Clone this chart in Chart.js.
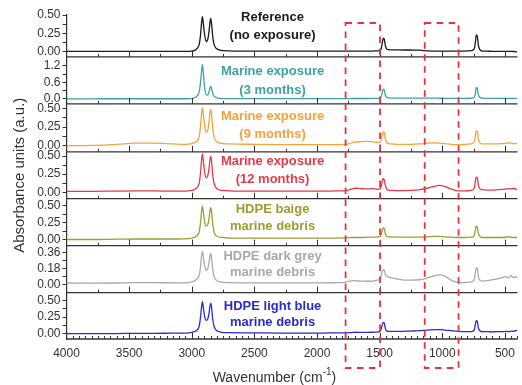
<!DOCTYPE html>
<html>
<head>
<meta charset="utf-8">
<script src="https://cdn.jsdelivr.net/npm/chart.js@4.4.0/dist/chart.umd.min.js"></script>
<style>
  html, body { margin: 0; padding: 0; background: #fff; }
  #wrap { width: 522px; height: 385px; }
</style>
</head>
<body>
<div id="wrap"><canvas id="ftirChart" width="522" height="385"></canvas></div>
<script>
// wavenumber grid (cm-1), shared by every spectrum
const wavenumbers = [
  4000, 3800, 3600, 3450, 3300, 3150, 3050,
  3000, 2975, 2955, 2940, 2930, 2922, 2915, 2908, 2898, 2885, 2872, 2862, 2854, 2848, 2841, 2832, 2820, 2800, 2770, 2700,
  2500, 2300, 2100, 1950, 1850, 1780, 1740, 1715, 1690, 1650, 1600, 1560, 1520,
  1500, 1488, 1478, 1471, 1463, 1455, 1445, 1430, 1400, 1350,
  1250, 1180, 1120, 1060, 1020, 980, 930, 880, 820, 770,
  745, 735, 729, 720, 712, 700, 680,
  640, 600, 560, 520, 490, 470, 450, 430, 410, 400
];

// absorbance values
const reference = [
  0.005, 0.005, 0.006, 0.006, 0.006, 0.006, 0.006,
  0.01, 0.02, 0.05, 0.105, 0.23, 0.39, 0.477, 0.39, 0.24, 0.14, 0.17, 0.28, 0.41, 0.455, 0.36, 0.2, 0.09, 0.04, 0.02, 0.012,
  0.008, 0.01, 0.01, 0.008, 0.008, 0.008, 0.009, 0.01, 0.009, 0.009, 0.01, 0.01, 0.012,
  0.015, 0.04, 0.13, 0.185, 0.17, 0.09, 0.04, 0.028, 0.026, 0.025,
  0.024, 0.022, 0.012, 0.009, 0.008, 0.008, 0.008, 0.008, 0.01, 0.015,
  0.04, 0.14, 0.23, 0.21, 0.09, 0.03, 0.01,
  0.008, 0.006, 0.006, 0.006, 0.006, 0.006, 0.006, 0.004, 0.0, 0.0
];
const marine3 = [
  0.004, 0.004, 0.005, 0.005, 0.005, 0.005, 0.006,
  0.012, 0.04, 0.12, 0.27, 0.6, 1.0, 1.24, 0.95, 0.45, 0.15, 0.14, 0.26, 0.4, 0.45, 0.36, 0.2, 0.09, 0.04, 0.02, 0.01,
  0.008, 0.008, 0.008, 0.008, 0.008, 0.01, 0.012, 0.014, 0.014, 0.014, 0.015, 0.016, 0.018,
  0.02, 0.08, 0.25, 0.35, 0.31, 0.15, 0.06, 0.035, 0.03, 0.028,
  0.027, 0.026, 0.025, 0.025, 0.024, 0.022, 0.02, 0.02, 0.02, 0.025,
  0.06, 0.23, 0.42, 0.37, 0.15, 0.06, 0.03,
  0.02, 0.02, 0.02, 0.02, 0.018, 0.02, 0.02, 0.02, 0.02, 0.02
];
const marine9 = [
  0.0, 0.005, 0.02, 0.035, 0.035, 0.025, 0.02,
  0.03, 0.045, 0.07, 0.13, 0.26, 0.43, 0.51, 0.43, 0.28, 0.18, 0.21, 0.32, 0.45, 0.49, 0.4, 0.23, 0.11, 0.055, 0.035, 0.025,
  0.02, 0.015, 0.015, 0.015, 0.015, 0.02, 0.03, 0.045, 0.05, 0.055, 0.06, 0.055, 0.045,
  0.045, 0.07, 0.15, 0.19, 0.175, 0.1, 0.045, 0.03, 0.025, 0.02,
  0.02, 0.025, 0.035, 0.04, 0.035, 0.03, 0.02, 0.015, 0.018, 0.025,
  0.05, 0.15, 0.2, 0.19, 0.09, 0.04, 0.025,
  0.025, 0.025, 0.025, 0.03, 0.035, 0.04, 0.035, 0.03, 0.03, 0.03
];
const marine12 = [
  0.012, 0.012, 0.015, 0.018, 0.018, 0.015, 0.015,
  0.025, 0.04, 0.07, 0.13, 0.27, 0.44, 0.53, 0.44, 0.29, 0.2, 0.23, 0.33, 0.46, 0.5, 0.41, 0.23, 0.11, 0.05, 0.03, 0.02,
  0.015, 0.015, 0.015, 0.015, 0.018, 0.02, 0.035, 0.05, 0.055, 0.05, 0.045, 0.05, 0.04,
  0.045, 0.08, 0.16, 0.19, 0.17, 0.1, 0.045, 0.03, 0.025, 0.022,
  0.025, 0.035, 0.055, 0.085, 0.095, 0.08, 0.045, 0.02, 0.018, 0.025,
  0.055, 0.16, 0.21, 0.2, 0.1, 0.05, 0.035,
  0.03, 0.03, 0.035, 0.04, 0.045, 0.05, 0.045, 0.055, 0.04, 0.035
];
const beigeDebris = [
  0.0, 0.0, 0.005, 0.008, 0.008, 0.008, 0.01,
  0.02, 0.035, 0.06, 0.12, 0.25, 0.41, 0.49, 0.41, 0.27, 0.2, 0.22, 0.31, 0.43, 0.47, 0.39, 0.22, 0.1, 0.05, 0.03, 0.022,
  0.02, 0.02, 0.02, 0.02, 0.022, 0.025, 0.028, 0.03, 0.03, 0.03, 0.032, 0.035, 0.038,
  0.04, 0.07, 0.14, 0.17, 0.16, 0.09, 0.05, 0.04, 0.038, 0.035,
  0.035, 0.035, 0.04, 0.045, 0.045, 0.04, 0.035, 0.03, 0.03, 0.035,
  0.055, 0.15, 0.195, 0.18, 0.09, 0.045, 0.03,
  0.03, 0.03, 0.03, 0.03, 0.035, 0.04, 0.035, 0.03, 0.03, 0.03
];
const darkGreyDebris = [
  0.018, 0.016, 0.018, 0.022, 0.022, 0.02, 0.02,
  0.03, 0.045, 0.07, 0.11, 0.2, 0.32, 0.375, 0.32, 0.22, 0.16, 0.18, 0.25, 0.33, 0.35, 0.29, 0.17, 0.085, 0.045, 0.03, 0.022,
  0.02, 0.02, 0.02, 0.02, 0.022, 0.025, 0.04, 0.045, 0.042, 0.04, 0.038, 0.04, 0.05,
  0.06, 0.1, 0.15, 0.17, 0.16, 0.12, 0.095, 0.085, 0.075, 0.06,
  0.05, 0.055, 0.075, 0.1, 0.11, 0.095, 0.05, 0.025, 0.022, 0.03,
  0.055, 0.15, 0.19, 0.18, 0.09, 0.05, 0.04,
  0.045, 0.055, 0.065, 0.08, 0.09, 0.075, 0.1, 0.08, 0.09, 0.07
];
const lightBlueDebris = [
  0.0, 0.0, 0.002, 0.005, 0.006, 0.008, 0.01,
  0.02, 0.035, 0.06, 0.12, 0.25, 0.4, 0.485, 0.4, 0.27, 0.2, 0.22, 0.31, 0.42, 0.46, 0.38, 0.21, 0.1, 0.045, 0.025, 0.015,
  0.012, 0.01, 0.01, 0.01, 0.012, 0.012, 0.015, 0.02, 0.022, 0.02, 0.02, 0.022, 0.025,
  0.03, 0.07, 0.14, 0.17, 0.16, 0.08, 0.045, 0.035, 0.035, 0.035,
  0.04, 0.045, 0.055, 0.06, 0.06, 0.055, 0.045, 0.035, 0.03, 0.03,
  0.055, 0.15, 0.195, 0.18, 0.09, 0.045, 0.03,
  0.03, 0.028, 0.03, 0.03, 0.035, 0.03, 0.04, 0.035, 0.05, 0.04
];

const panelLabels = [
  ['Reference', '(no exposure)'],
  ['Marine exposure', '(3 months)'],
  ['Marine exposure', '(9 months)'],
  ['Marine exposure', '(12 months)'],
  ['HDPE baige', 'marine debris'],
  ['HDPE dark grey', 'marine debris'],
  ['HDPE light blue', 'marine debris']
];
const yTickLabels = [
  ['0.00', '0.25', '0.50'],
  ['0.0', '0.6', '1.2'],
  ['0.00', '0.25', '0.50'],
  ['0.00', '0.25', '0.50'],
  ['0.00', '0.25', '0.50'],
  ['0.00', '0.18', '0.36'],
  ['0.00', '0.25', '0.50']
];
const yMin = [-0.07, -0.18, -0.08, -0.09, -0.09, -0.09, -0.08];
const yMax = [0.5, 1.52, 0.56, 0.56, 0.6, 0.44, 0.62];
const xTickLabels = ['4000', '3500', '3000', '2500', '2000', '1500', '1000', '500'];
// highlighted wavenumber bands (dashed boxes)
const bands = [[1772, 1497], [1140, 870]];

const spectra = [reference, marine3, marine9, marine12, beigeDebris, darkGreyDebris, lightBlueDebris];
const colors = ['#1a1a1a', '#3ca3a0', '#f5a23c', '#e33a4a', '#9c9d30', '#a8a8a8', '#2a2ad0'];
const panelWeights = [42, 47, 48, 47, 47, 47, 46.5];
// text line centres, px below each panel top
const labelOffsets = [[2, 20], [14.5, 33], [12.5, 31], [9.5, 28], [11, 27.5], [10.5, 26.5], [13.5, 29.5]];

const fontFamily = "'Liberation Sans', Arial, sans-serif";
const axisColor = '#333';

const datasets = spectra.map((s, i) => ({
  label: panelLabels[i].join(' '),
  data: wavenumbers.map((w, j) => ({x: w, y: s[j]})),
  borderColor: colors[i],
  borderWidth: 1.3,
  pointRadius: 0,
  cubicInterpolationMode: 'monotone',
  yAxisID: 'y' + (i + 1)
}));

const scales = {
  x: {
    type: 'linear',
    reverse: true,
    min: 400,
    max: 4000,
    grid: {display: false, drawTicks: false},
    border: {display: false},
    afterBuildTicks: s => { s.ticks = xTickLabels.map(t => ({value: Number(t)})); },
    ticks: {
      callback: v => String(v),
      font: {family: fontFamily, size: 12},
      color: axisColor,
      padding: 7,
      maxRotation: 0,
      autoSkip: false
    },
    afterFit: s => { s.height = 46; }
  }
};

yTickLabels.forEach((labels, i) => {
  const major = labels.map(Number);
  const half = (major[1] - major[0]) / 2;
  const vals = [];
  for (let k = 0; k <= 4; k++) vals.push(+(major[0] + k * half).toFixed(4));
  scales['y' + (i + 1)] = {
    type: 'linear',
    position: 'left',
    stack: 'panels',
    stackWeight: panelWeights[i],
    weight: 10 - i,
    min: yMin[i],
    max: yMax[i],
    afterBuildTicks: s => { s.ticks = vals.map(v => ({value: v})); },
    ticks: {
      callback: v => { const k = major.indexOf(v); return k >= 0 ? labels[k] : ''; },
      font: {family: fontFamily, size: 12},
      color: axisColor,
      padding: 2,
      autoSkip: false
    },
    grid: {drawOnChartArea: false, tickLength: 4, color: axisColor, tickColor: axisColor},
    border: {color: axisColor, width: 1.2},
    title: {
      display: i === 3,
      text: 'Absorbance units (a.u.)',
      font: {family: fontFamily, size: 15},
      color: axisColor
    },
    afterFit: s => { s.width = 60; }
  };
});

const panelDecor = {
  id: 'panelDecor',
  afterDatasetsDraw(chart) {
    const {ctx, chartArea, scales} = chart;
    const x = scales.x;
    ctx.save();
    for (let i = 0; i < spectra.length; i++) {
      const s = scales['y' + (i + 1)];
      const yb = s.bottom;
      ctx.setLineDash([]);
      ctx.strokeStyle = axisColor;
      ctx.lineWidth = 1.3;
      ctx.beginPath();
      ctx.moveTo(chartArea.left, yb);
      ctx.lineTo(chartArea.right, yb);
      ctx.stroke();
      // inward ticks
      const last = i === spectra.length - 1;
      const step = last ? 50 : 250;
      ctx.lineWidth = 1;
      ctx.beginPath();
      for (let w = 4000 - step; w >= 400; w -= step) {
        const px = Math.round(x.getPixelForValue(w)) + 0.5;
        const len = w % 500 === 0 ? 6 : 3;
        ctx.moveTo(px, yb);
        ctx.lineTo(px, yb - len);
      }
      ctx.stroke();
      // panel text
      ctx.fillStyle = colors[i];
      ctx.font = 'bold 13px ' + fontFamily;
      ctx.textAlign = 'center';
      ctx.textBaseline = 'middle';
      const cx = x.getPixelForValue(2355);
      panelLabels[i].forEach((t, k) => ctx.fillText(t, cx, s.top + labelOffsets[i][k]));
    }
    // dashed boxes around the bands
    ctx.strokeStyle = '#e3343c';
    ctx.lineWidth = 1.8;
    ctx.setLineDash([6.5, 5.5]);
    const top = chartArea.top + 8;
    const bottom = chart.height - 17;
    bands.forEach(([a, b]) => {
      const x1 = x.getPixelForValue(a);
      const x2 = x.getPixelForValue(b);
      ctx.strokeRect(x1, top, x2 - x1, bottom - top);
    });
    // x axis title with superscript
    ctx.setLineDash([]);
    ctx.fillStyle = axisColor;
    ctx.textAlign = 'left';
    ctx.textBaseline = 'middle';
    const mainFont = '14px ' + fontFamily;
    const supFont = '10px ' + fontFamily;
    ctx.font = mainFont;
    const w1 = ctx.measureText('Wavenumber (cm').width;
    const w3 = ctx.measureText(')').width;
    ctx.font = supFont;
    const w2 = ctx.measureText('-1').width;
    let tx = x.getPixelForValue(2340) - (w1 + w2 + w3) / 2;
    const ty = chart.height - 7;
    ctx.font = mainFont;
    ctx.fillText('Wavenumber (cm', tx, ty);
    tx += w1;
    ctx.font = supFont;
    ctx.fillText('-1', tx, ty - 6);
    tx += w2;
    ctx.font = mainFont;
    ctx.fillText(')', tx, ty);
    ctx.restore();
  }
};

new Chart(document.getElementById('ftirChart'), {
  type: 'line',
  data: {datasets},
  options: {
    responsive: false,
    animation: false,
    devicePixelRatio: 1,
    layout: {padding: {left: 6.5, top: 15, right: 3, bottom: 0}},
    plugins: {legend: {display: false}, tooltip: {enabled: false}},
    scales
  },
  plugins: [panelDecor]
});
</script>
</body>
</html>
